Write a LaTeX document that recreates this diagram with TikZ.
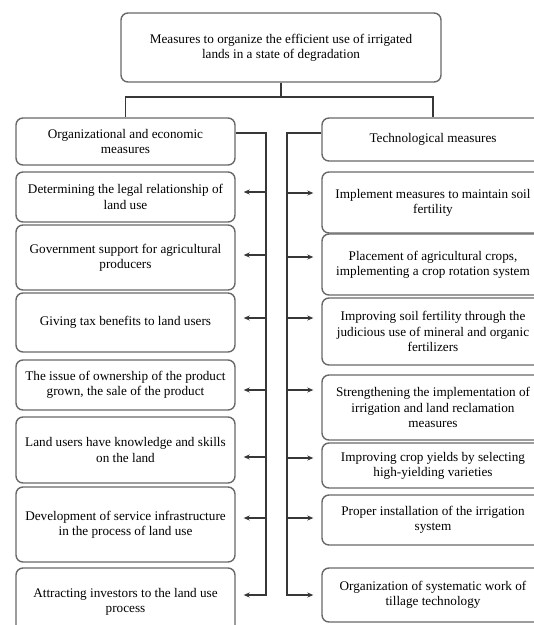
\documentclass[tikz,border=0pt]{standalone}
\usepackage{fontspec}
\setmainfont{Liberation Serif}
\usetikzlibrary{arrows.meta}
\definecolor{boxLine}{RGB}{105,105,105}
\definecolor{wireColor}{RGB}{55,55,55}

\begin{document}
\begin{tikzpicture}[x=1pt,y=-1pt,
  measure/.style={draw=boxLine,line width=1.4pt,rounded corners=7pt,align=center,
    inner sep=2pt,font=\fontsize{13.2}{15.2}\selectfont},
  leftbox/.style={measure,minimum width=219,minimum height=#1},
  rightbox/.style={measure,minimum width=222,minimum height=#1},
  wire/.style={draw=wireColor,line width=1.3pt},
  link/.style={wire,-{Stealth[length=6pt,width=5pt]},shorten >=8pt}]
  \clip (0,0) rectangle (534,625);
  % Title
  \node[measure,minimum width=320,minimum height=69] (top) at (281,47.5)
    {Measures to organize the efficient use of irrigated\\lands in a state of degradation};
  % Left column
  \node[leftbox=47] (lh) at (125.5,141.5) {Organizational and economic\\measures};
  \node[leftbox=50] (l1) at (125.5,197) {Determining the legal relationship of\\land use};
  \node[leftbox=65] (l2) at (125.5,257.5) {Government support for agricultural\\producers};
  \node[leftbox=59] (l3) at (125.5,322.5) {Giving tax benefits to land users};
  \node[leftbox=50] (l4) at (125.5,385) {The issue of ownership of the product\\grown, the sale of the product};
  \node[leftbox=66] (l5) at (125.5,450) {Land users have knowledge and skills\\on the land};
  \node[leftbox=75] (l6) at (125.5,524.5) {Development of service infrastructure\\in the process of land use};
  \node[leftbox=68] (l7) at (125.5,602) {Attracting investors to the land use\\process};
  % Right column
  \node[rightbox=43] (rh) at (433,139.5) {Technological measures};
  \node[rightbox=61] (r1) at (433,202.5) {Implement measures to maintain soil\\fertility};
  \node[rightbox=61] (r2) at (433,264.5) {Placement of agricultural crops,\\implementing a crop rotation system};
  \node[rightbox=67] (r3) at (433,331.5) {Improving soil fertility through the\\judicious use of mineral and organic\\fertilizers};
  \node[rightbox=65] (r4) at (433,407.5) {Strengthening the implementation of\\irrigation and land reclamation\\measures};
  \node[rightbox=45] (r5) at (433,465.5) {Improving crop yields by selecting\\high-yielding varieties};
  \node[rightbox=50] (r6) at (433,520) {Proper installation of the irrigation\\system};
  \node[rightbox=54] (r7) at (433,595) {Organization of systematic work of\\tillage technology};
  % Branches from the title
  \coordinate (bus) at (0,97);
  \draw[wire] (top.south) -- (top.south |- bus);
  \draw[wire] (lh.north) -- (lh.north |- bus) -- (rh.north |- bus) -- (rh.north);
  % Left bus
  \coordinate (lbus) at (266,0);
  \path ([yshift=8.5pt]lh.east) coordinate (lh-out);
  \foreach \b/\d in {l1/5,l2/2.5,l3/4.5,l4/-5,l5/-7,l6/6.5,l7/7}
    \path ([yshift=\d pt]\b.east) coordinate (\b-in);
  \draw[link] (lh-out) -| (lbus |- l7-in) -- (l7-in);
  \foreach \b in {l1,l2,l3,l4,l5,l6}
    \draw[link] (lbus |- \b-in) -- (\b-in);
  % Right bus
  \coordinate (rbus) at (287,0);
  \path ([yshift=6.5pt]rh.west) coordinate (rh-out);
  \foreach \b/\d in {r1/9.5,r2/7.5,r3/13.5,r4/17.5,r5/7.5,r6/2,r7/0}
    \path ([yshift=\d pt]\b.west) coordinate (\b-in);
  \draw[link] (rh-out) -| (rbus |- r7-in) -- (r7-in);
  \foreach \b in {r1,r2,r3,r4,r5,r6}
    \draw[link] (rbus |- \b-in) -- (\b-in);
\end{tikzpicture}
\end{document}
